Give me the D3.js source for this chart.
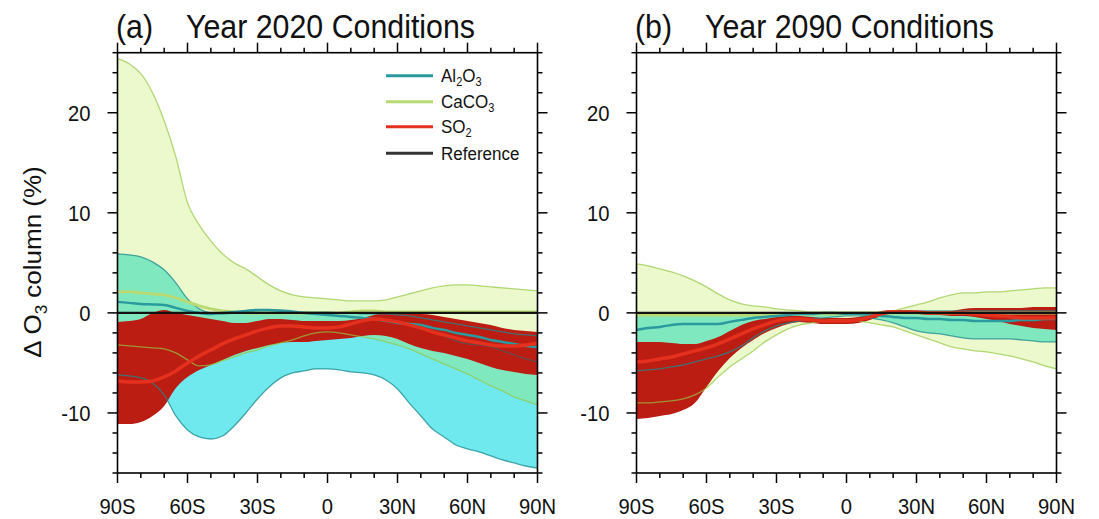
<!DOCTYPE html>
<html><head><meta charset="utf-8">
<script src="https://cdn.jsdelivr.net/npm/d3@7"></script>
<style>
body{margin:0;background:#fff}
svg{display:block}
text{font-family:"Liberation Sans",Arial,Helvetica,sans-serif;fill:#111}
</style>
</head><body>
<svg id="c" width="1099" height="519"></svg>
<script>
// ---------- data ----------
const lats = [-90,-85,-80,-75,-70,-65,-60,-55,-50,-45,-40,-35,-30,-25,-20,-15,-10,-5,0,5,10,15,20,25,30,35,40,45,50,55,60,65,70,75,80,85,90];
const xTickVals = [-90,-60,-30,0,30,60,90];
const xTickLabels = ["90S","60S","30S","0","30N","60N","90N"];
const yTickVals = [-10,0,10,20];
const yTickLabels = ["-10","0","10","20"];
const panelTags = ["(a)","(b)"];
const panelTitles = ["Year 2020 Conditions","Year 2090 Conditions"];
const legendNames = [["Al","2","O","3"],["CaCO","3"],["SO","2"],["Reference"]];

// Panel (a) : Year 2020
const caUpA  = [25.4,24.9,23.9,22.0,19.2,15.6,11.0,8.8,7.2,5.9,5.0,4.4,3.6,2.8,2.2,1.8,1.6,1.5,1.4,1.3,1.2,1.2,1.2,1.3,1.6,1.9,2.2,2.5,2.7,2.8,2.8,2.7,2.6,2.5,2.4,2.3,2.2];
const caLoA  = [-3.2,-3.3,-3.4,-3.5,-3.6,-4.0,-4.7,-5.3,-5.2,-4.8,-4.4,-4.0,-3.7,-3.3,-3.0,-2.7,-2.3,-2.0,-1.9,-2.0,-2.2,-2.4,-2.6,-2.9,-3.2,-3.6,-4.1,-4.6,-5.1,-5.6,-6.1,-6.7,-7.3,-7.8,-8.4,-8.8,-9.2];
const alUpA  = [5.9,5.8,5.6,5.1,4.3,3.0,1.4,0.4,0.0,-0.1,0.0,0.1,0.2,0.3,0.3,0.2,0.1,0.1,0.1,0.0,0.0,-0.1,-0.1,-0.1,-0.2,-0.3,-0.5,-0.7,-0.9,-1.1,-1.3,-1.5,-1.7,-1.9,-2.1,-2.2,-2.3];
const alLoA  = [-6.2,-6.3,-6.5,-7.0,-8.2,-10.3,-11.7,-12.4,-12.6,-12.3,-11.3,-10.0,-8.6,-7.4,-6.5,-6.0,-5.8,-5.6,-5.6,-5.7,-5.9,-6.0,-6.2,-6.7,-7.6,-9.0,-10.3,-11.6,-12.4,-13.2,-13.6,-13.9,-14.3,-14.7,-15.0,-15.3,-15.5];
const soUpA  = [-0.9,-0.8,-0.6,0.0,0.3,0.0,-0.2,-0.4,-0.6,-0.8,-1.0,-1.0,-0.8,-0.6,-0.6,-0.7,-0.8,-0.8,-0.8,-0.8,-0.7,-0.5,-0.2,0.0,0.0,-0.1,-0.1,-0.2,-0.4,-0.6,-0.8,-1.0,-1.2,-1.5,-1.7,-1.8,-1.9];
const soLoA  = [-11.1,-11.1,-10.9,-10.3,-9.3,-7.5,-6.4,-5.7,-5.2,-4.7,-4.2,-3.8,-3.5,-3.2,-3.0,-2.9,-2.9,-2.8,-2.7,-2.6,-2.5,-2.3,-2.2,-2.3,-2.6,-3.1,-3.5,-3.8,-4.0,-4.3,-4.6,-5.0,-5.4,-5.7,-5.9,-6.1,-6.2];
const caMeanA= [2.1,2.1,2.0,1.9,1.8,1.5,1.1,0.7,0.4,0.2,0.1,0.0,0.0,0.0,0.0,0.0,0.0,0.0,0.0,0.0,0.1,0.2,0.2,0.1,0.1,0.1,0.1,0.1,0.1,0.1,0.1,0.1,0.1,0.1,0.1,0.1,0.1];
const alMeanA= [1.1,1.0,0.9,0.85,0.8,0.5,0.2,0.0,-0.1,0.0,0.1,0.2,0.3,0.3,0.2,0.1,0.0,-0.1,-0.2,-0.3,-0.4,-0.5,-0.6,-0.8,-1.0,-1.1,-1.2,-1.5,-1.7,-2.0,-2.2,-2.4,-2.7,-2.9,-3.1,-3.3,-3.4];
const soMeanA= [-6.8,-6.9,-6.9,-6.8,-6.4,-5.8,-5.0,-4.3,-3.7,-3.1,-2.6,-2.2,-1.8,-1.5,-1.3,-1.3,-1.4,-1.5,-1.5,-1.4,-1.1,-0.8,-0.6,-0.7,-0.9,-1.2,-1.5,-1.9,-2.2,-2.5,-2.8,-3.0,-3.2,-3.3,-3.3,-3.2,-3.0];
const extraA = [null,null,null,null,null,null,null,null,null,null,null,null,null,null,null,null,null,null,null,null,null,null,null,null,null,-1.1,-1.4,-1.8,-2.3,-2.8,-3.1,-3.2,-3.4,-3.8,-4.2,-4.6,-4.9];

// Panel (b) : Year 2090
const caUpB  = [4.9,4.7,4.4,4.1,3.7,3.2,2.6,1.9,1.3,0.9,0.7,0.6,0.4,0.3,0.2,0.1,0.1,0.1,0.1,0.1,0.1,0.1,0.2,0.5,0.8,1.1,1.5,1.8,2.0,2.0,2.1,2.1,2.2,2.3,2.4,2.5,2.5];
const caLoB  = [-9.0,-9.0,-8.9,-8.8,-8.6,-8.2,-7.5,-6.4,-5.4,-4.6,-3.8,-2.9,-2.2,-1.6,-1.2,-1.0,-0.8,-0.7,-0.7,-0.8,-1.0,-1.2,-1.4,-1.8,-2.2,-2.6,-3.0,-3.4,-3.6,-3.8,-3.9,-4.1,-4.3,-4.6,-4.9,-5.3,-5.6];
const alUpB  = [-0.1,-0.1,-0.1,-0.1,-0.1,-0.1,-0.1,-0.1,-0.1,-0.1,-0.1,-0.1,-0.1,0.0,0.0,0.0,0.0,0.0,0.0,0.0,0.0,0.0,0.1,0.2,0.2,0.2,0.2,0.2,0.2,0.2,0.2,0.2,0.2,0.2,0.2,0.2,0.2];
const alLoB  = [-5.8,-5.7,-5.6,-5.4,-5.2,-4.9,-4.6,-4.3,-3.9,-3.3,-2.5,-1.8,-1.3,-1.0,-0.8,-0.6,-0.5,-0.4,-0.3,-0.3,-0.5,-0.7,-1.0,-1.4,-1.8,-2.0,-2.1,-2.3,-2.5,-2.6,-2.6,-2.6,-2.6,-2.7,-2.8,-2.9,-2.9];
const soUpB  = [-2.9,-2.9,-2.9,-3.0,-3.1,-3.1,-2.8,-2.4,-1.8,-1.2,-0.8,-0.6,-0.4,-0.3,-0.3,-0.4,-0.5,-0.5,-0.5,-0.4,-0.1,0.2,0.3,0.3,0.2,0.1,0.1,0.2,0.4,0.5,0.5,0.5,0.5,0.5,0.6,0.6,0.6];
const soLoB  = [-10.6,-10.5,-10.3,-10.1,-9.7,-9.0,-7.4,-5.8,-4.5,-3.5,-2.7,-2.0,-1.5,-1.1,-0.9,-1.0,-1.1,-1.1,-1.1,-1.0,-0.7,-0.3,0.0,0.0,-0.1,-0.2,-0.2,-0.3,-0.3,-0.4,-0.6,-0.8,-1.1,-1.3,-1.5,-1.6,-1.7];
const caMeanB= [-0.2,-0.2,-0.2,-0.2,-0.2,-0.2,-0.2,-0.2,-0.2,-0.2,-0.2,-0.2,-0.2,-0.1,-0.1,-0.1,-0.1,-0.1,-0.1,-0.1,-0.1,-0.1,0.0,0.0,0.0,0.0,0.0,0.0,0.0,0.0,0.0,0.0,0.0,0.0,0.0,0.0,0.0];
const alMeanB= [-1.7,-1.5,-1.4,-1.2,-1.1,-1.1,-1.1,-1.1,-0.9,-0.7,-0.5,-0.4,-0.3,-0.2,-0.1,-0.1,0.0,0.0,-0.1,-0.1,-0.2,-0.3,-0.4,-0.5,-0.5,-0.6,-0.6,-0.7,-0.7,-0.8,-0.8,-0.8,-0.8,-0.7,-0.7,-0.6,-0.6];
const soMeanB= [-4.9,-4.8,-4.6,-4.4,-4.1,-3.8,-3.5,-3.1,-2.6,-2.1,-1.6,-1.2,-0.8,-0.6,-0.6,-0.7,-0.8,-0.8,-0.8,-0.7,-0.4,-0.1,0.1,0.1,0.1,0.0,0.0,0.0,0.0,-0.1,-0.2,-0.3,-0.4,-0.5,-0.5,-0.5,-0.5];

// ---------- drawing ----------
const svg = d3.select("#c");
const yTop = 52.7, yBot = 473;
const y = d3.scaleLinear().domain([-16,26]).range([yBot,yTop]);
const SX = 0.92;

const panels = [
  {x0:117.5, x1:537.5, caUp:caUpA, caLo:caLoA, alUp:alUpA, alLo:alLoA, soUp:soUpA, soLo:soLoA, caMean:caMeanA, alMean:alMeanA, soMean:soMeanA, extra:extraA},
  {x0:636.5, x1:1056.5, caUp:caUpB, caLo:caLoB, alUp:alUpB, alLo:alLoB, soUp:soUpB, soLo:soLoB, caMean:caMeanB, alMean:alMeanB, soMean:soMeanB, extra:null}
];

const C = {
  alFill:"#6fe8ee", caFill:"rgb(175,232,52)", caFillOp:0.25, soFill:"#bb1d13",
  caEdge:"rgb(150,200,70)", alEdge:"#1d8a8e",
  caLine:"#b9da72", alLine:"#2a9a9e", soLine:"#e6301e", refLine:"#111"
};

function sText(parent, x, yy, str, size, anchor){
  return parent.append("text")
    .attr("transform", `translate(${x},${yy}) scale(${SX},1)`)
    .attr("text-anchor", anchor||"start")
    .attr("font-size", size)
    .text(str);
}

panels.forEach((p,i)=>{
  const x = d3.scaleLinear().domain([-90,90]).range([p.x0,p.x1]);
  const g = svg.append("g");
  const clipId = "clip"+i;
  svg.append("clipPath").attr("id",clipId).append("rect")
    .attr("x",p.x0).attr("y",yTop).attr("width",p.x1-p.x0).attr("height",yBot-yTop);
  const pg = g.append("g").attr("clip-path",`url(#${clipId})`);

  const area = (up,lo)=>d3.area()
    .x((d,j)=>x(lats[j])).y0((d,j)=>y(lo[j])).y1((d,j)=>y(up[j]))
    .curve(d3.curveMonotoneX)(lats);
  const line = (arr)=>d3.line()
    .defined((d,j)=>arr[j]!=null)
    .x((d,j)=>x(lats[j])).y((d,j)=>y(arr[j]))
    .curve(d3.curveMonotoneX)(lats);

  // ranges
  pg.append("path").attr("d",area(p.alUp,p.alLo)).attr("fill",C.alFill);
  pg.append("path").attr("d",area(p.caUp,p.caLo)).attr("fill",C.caFill).attr("fill-opacity",C.caFillOp);
  pg.append("path").attr("d",area(p.soUp,p.soLo)).attr("fill",C.soFill);

  // range edges
  [p.caUp,p.caLo].forEach(a=>pg.append("path").attr("d",line(a)).attr("fill","none")
     .attr("stroke",C.caEdge).attr("stroke-opacity",0.7).attr("stroke-width",1.3));
  [p.alUp,p.alLo].forEach(a=>pg.append("path").attr("d",line(a)).attr("fill","none")
     .attr("stroke",C.alEdge).attr("stroke-opacity",0.75).attr("stroke-width",1.3));
  if (p.extra) pg.append("path").attr("d",line(p.extra)).attr("fill","none")
     .attr("stroke","#555").attr("stroke-opacity",0.8).attr("stroke-width",1.3);

  // means
  pg.append("path").attr("d",line(p.caMean)).attr("fill","none").attr("stroke",C.caLine).attr("stroke-width",3);
  pg.append("path").attr("d",line(p.alMean)).attr("fill","none").attr("stroke",C.alLine).attr("stroke-width",2.5);
  pg.append("path").attr("d",line(p.soMean)).attr("fill","none").attr("stroke",C.soLine).attr("stroke-width",3.5);
  // reference
  pg.append("line").attr("x1",p.x0).attr("x2",p.x1).attr("y1",y(0)).attr("y2",y(0))
    .attr("stroke",C.refLine).attr("stroke-width",2.2);

  // frame
  g.append("rect").attr("x",p.x0).attr("y",yTop).attr("width",p.x1-p.x0).attr("height",yBot-yTop)
    .attr("fill","none").attr("stroke","#000").attr("stroke-width",1.6);

  // ticks (outward)
  const tk = g.append("g").attr("stroke","#000").attr("stroke-width",1.5);
  const xMinor = d3.range(-90,91,10);
  xMinor.forEach(v=>{
    const L = (v%30===0)?10:5;
    tk.append("line").attr("x1",x(v)).attr("x2",x(v)).attr("y1",yBot).attr("y2",yBot+L);
    tk.append("line").attr("x1",x(v)).attr("x2",x(v)).attr("y1",yTop).attr("y2",yTop-L);
  });
  const yMinor = d3.range(-16,27,2);
  yMinor.forEach(v=>{
    const L = (v%10===0)?10:5;
    tk.append("line").attr("y1",y(v)).attr("y2",y(v)).attr("x1",p.x0).attr("x2",p.x0-L);
    tk.append("line").attr("y1",y(v)).attr("y2",y(v)).attr("x1",p.x1).attr("x2",p.x1+L);
  });

  // tick labels
  xTickVals.forEach((v,k)=>sText(g, x(v), 514, xTickLabels[k], 22, "middle"));
  yTickVals.forEach((v,k)=>sText(g, p.x0-27, y(v)+8, yTickLabels[k], 22, "end"));

  // titles
  sText(g, p.x0-1.5, 38, panelTags[i], 33, "start");
  sText(g, p.x0+68.5, 38, panelTitles[i], 33, "start");
});

// y axis label
const yl = svg.append("text")
  .attr("transform","translate(41,262) rotate(-90) scale(1,0.92)")
  .attr("text-anchor","middle").attr("font-size",26);
yl.append("tspan").text("\u0394 O");
yl.append("tspan").attr("font-size",17).attr("dy",6).text("3");
yl.append("tspan").attr("dy",-6).text(" column (%)");

// legend
const legColors = [C.alLine, C.caLine, C.soLine, "#333"];
const legY = [75.7, 101.7, 126.7, 153.3];
const lg = svg.append("g");
legendNames.forEach((parts,k)=>{
  lg.append("line").attr("x1",386).attr("x2",433).attr("y1",legY[k]).attr("y2",legY[k])
    .attr("stroke",legColors[k]).attr("stroke-width",3);
  const t = lg.append("text").attr("transform",`translate(441,${legY[k]+6.5}) scale(${SX},1)`).attr("font-size",18.5);
  parts.forEach((s,m)=>{
    const isSub = /^[0-9]$/.test(s);
    const ts = t.append("tspan").text(s);
    if (isSub) ts.attr("font-size",12).attr("dy",4);
    else if (m>0) ts.attr("dy",-4);
  });
});
</script>
</body></html>
